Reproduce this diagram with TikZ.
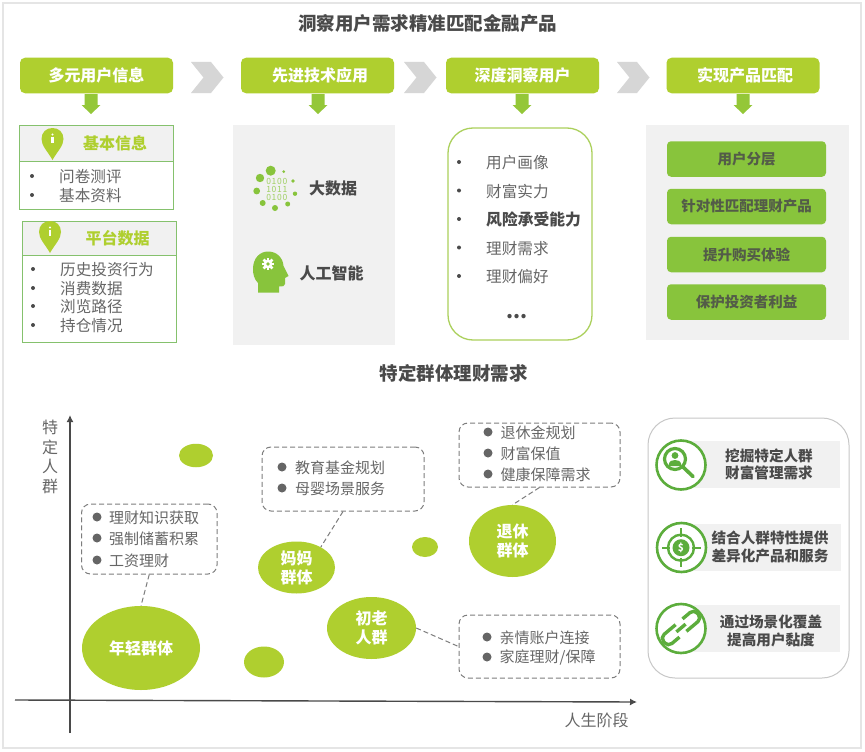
\documentclass[tikz,border=0pt]{standalone}
\usepackage{fontspec}
\setmainfont{Noto Sans CJK SC}
\usetikzlibrary{shapes.geometric,arrows.meta,calc}
\definecolor{lime}{HTML}{AFCF2F}
\definecolor{grn}{HTML}{88C43C}
\definecolor{deep}{HTML}{5CAD3C}
\definecolor{txt}{HTML}{666666}
\definecolor{dark}{HTML}{4A4A4A}
\definecolor{panel}{HTML}{F1F1F1}
\definecolor{chev}{HTML}{D6D6D6}
\newcommand{\px}[1]{\fontsize{#1}{#1}\selectfont}
\tikzset{
 x=1pt,y=-1pt,
 headbox/.style={fill=lime,rounded corners=5pt,minimum width=153pt,minimum height=35.5pt,inner sep=0,text=white,font=\px{16}\bfseries},
 btn/.style={fill=grn,rounded corners=4pt,minimum width=159pt,minimum height=35.5pt,inner sep=0,text=dark!85!grn,font=\px{14.5}\bfseries},
 dashbox/.style={draw=txt!85!white,line width=1pt,dash pattern=on 5pt off 3pt,rounded corners=9pt,inner sep=0},
 linkline/.style={draw=txt!85!white,line width=1pt,dash pattern=on 5pt off 3pt},
 blob/.style={ellipse,fill=lime,inner sep=0,text=white,font=\px{16}\bfseries,align=center},
 lst/.style={anchor=west,inner sep=0,text=txt,font=\px{15},yshift=-0.7pt},
 lsb/.style={anchor=west,inner sep=0,text=txt,font=\px{15.6},yshift=-0.7pt},
 bul/.style={circle,fill=dark!85!white,minimum size=9pt,inner sep=0},
 sbul/.style={circle,fill=dark,minimum size=4pt,inner sep=0},
 infoh/.style={draw=deep!75!white,line width=1pt,fill=panel,inner sep=0},
 infob/.style={draw=deep!75!white,line width=1pt,fill=white,inner sep=0},
 ringc/.style={circle,draw=deep,line width=2.6pt,fill=white,minimum size=49pt,inner sep=0},
 rtxt/.style={inner sep=0,text=dark,font=\px{14.6}\bfseries,align=center},
 ttl/.style={inner sep=0,text=dark,font=\px{18.5}\bfseries},
 ghd/.style={inner sep=0,text=lime,font=\px{16}\bfseries},
 biglab/.style={inner sep=0,text=dark,font=\px{16}\bfseries},
 axl/.style={inner sep=0,text=txt,font=\px{16}},
 axisline/.style={draw=dark,line width=1.4pt},
 bits/.style={inner sep=0,text=grn!80!white,font={\addfontfeatures{LetterSpace=8}\fontsize{8.5}{8.2}\selectfont},align=center},
}
\newcommand{\chevron}[2]{\fill[chev] (#1,#2) -- ++(20,0) -- ++(12.5,15.5) -- ++(-12.5,15.5) -- ++(-20,0) -- ++(12.5,-15.5) -- cycle;}
\newcommand{\downarr}[2]{\fill[grn!70!lime] (#1-6.5,#2) -- (#1+6.5,#2) -- (#1+6.5,#2+11) -- (#1+9.5,#2+11) -- (#1,#2+20) -- (#1-9.5,#2+11) -- (#1-6.5,#2+11) -- cycle;}
\newcommand{\mappin}[2]{\fill[lime] (#1,#2+32) .. controls (#1-5,#2+23) and (#1-11,#2+18) .. (#1-11,#2+11) .. controls (#1-11,#2+4) and (#1-6,#2) .. (#1,#2) .. controls (#1+6,#2) and (#1+11,#2+4) .. (#1+11,#2+11) .. controls (#1+11,#2+18) and (#1+5,#2+23) .. (#1,#2+32) -- cycle;
 \fill[white] (#1,#2+6.5) circle (1.2);\fill[white] (#1-1.1,#2+9) rectangle (#1+1.1,#2+15);}
\begin{document}
\begin{tikzpicture}
\useasboundingbox (0,0) rectangle (865,752);
\fill[white] (0,0) rectangle (865,752);
% frame
\draw[draw=black!10,line width=1.5pt] (3,3) rectangle (861,748);
% titles
\node[ttl] (t1) at (427.5,23) {洞察用户需求精准匹配金融产品};
\node[ttl] (t2) at (453.5,373) {特定群体理财需求};
% chevrons
\chevron{191}{62}\chevron{404}{62}\chevron{617}{62}
% heads
\node[headbox] (h1) at (96.5,75.5) {多元用户信息};
\node[headbox] (h2) at (317.5,75.5) {\hspace{5pt}先进技术应用};
\node[headbox] (h3) at (522.5,75.5) {深度洞察用户};
\node[headbox] (h4) at (743,75.5) {\hspace{4pt}实现产品匹配};
\downarr{91}{94}\downarr{318}{94}\downarr{522}{94}\downarr{743}{94}
% info A
\node[infoh,minimum width=154pt,minimum height=36pt] (ia) at (96.5,143) {};
\node[infob,minimum width=154pt,minimum height=48pt] (iab) at (96.5,185) {};
\mappin{52.5}{128}
\node[ghd] (iat) at (115,143) {基本信息};
\node[sbul] (a1) at (32,176) {}; \node[lsb] (a1t) at (59,176) {问卷测评};
\node[sbul] (a2) at (32,195) {}; \node[lsb] (a2t) at (59,195) {基本资料};
% info B
\node[infoh,minimum width=154pt,minimum height=34pt] (ib) at (99,238) {};
\node[infob,minimum width=154pt,minimum height=87pt] (ibb) at (99,298.5) {};
\mappin{50}{221}
\node[ghd] (ibt) at (117.5,238) {平台数据};
\node[sbul] (b1) at (33,269) {}; \node[lsb] (b1t) at (60,269) {历史投资行为};
\node[sbul] (b2) at (33,288) {}; \node[lsb] (b2t) at (60,288) {消费数据};
\node[sbul] (b3) at (33,306) {}; \node[lsb] (b3t) at (60,306) {浏览路径};
\node[sbul] (b4) at (33,325) {}; \node[lsb] (b4t) at (60,325) {持仓情况};
% panel 2
\fill[panel] (233,125) rectangle (395,345);
\foreach \a/\b/\r in {270.7/170.7/5,283.7/171.7/1.5,260/178/4.2,293/181/1.9,256.7/191/3.4,295/193.7/2.2,262.7/203/3,275/208/3,287.7/204/2.5}{\fill[grn] (\a,\b) circle (\r);}
\node[bits] (bitsn) at (276.8,189.3) {0100\\1011\\0100};
\node[biglab] (bd) at (333,188) {大数据};
\fill[grn] (258,292.5) -- (258,283) .. controls (254,279) and (253,274) .. (253,269) .. controls (253,258) and (260,251.5) .. (268,251.5) .. controls (277,251.5) and (283,258) .. (283.5,266) -- (288.5,276) -- (285,278) -- (285,284) .. controls (285,286) and (283,286.5) .. (279,286.5) -- (279,292.5) -- cycle;
\fill[white] (268,264) circle (4.4);
\foreach \k in {0,45,...,315}{\fill[white,shift={(268,264)},rotate=\k] (-1.3,3) rectangle (1.3,6.2);}
\fill[grn] (268,264) circle (1.8);
\node[biglab] (ai) at (331.5,273) {人工智能};
% rounded list
\draw[draw=lime!70!deep!80!white,line width=1.3pt,fill=white,rounded corners=25pt] (448,128) rectangle (592,340);
\node[sbul] (m1) at (459,162) {}; \node[lsb] (m1t) at (486,162) {用户画像};
\node[sbul] (m2) at (459,190.5) {}; \node[lsb] (m2t) at (486,190.5) {财富实力};
\node[sbul] (m3) at (459,219) {}; \node[lsb,text=dark,font=\px{15.8}\bfseries] (m3t) at (486,219) {风险承受能力};
\node[sbul] (m4) at (459,247.5) {}; \node[lsb] (m4t) at (486,247.5) {理财需求};
\node[sbul] (m5) at (459,276) {}; \node[lsb] (m5t) at (486,276) {理财偏好};
\node[inner sep=0,text=dark,font=\px{20}\bfseries] (m6) at (517,316.5) {...};
% panel 4
\fill[panel] (646,125) rectangle (849,340);
\node[btn] (p1) at (746.5,159) {用户分层};
\node[btn] (p2) at (746.5,206.5) {针对性匹配理财产品};
\node[btn] (p3) at (746.5,254.5) {提升购买体验};
\node[btn] (p4) at (746.5,302) {保护投资者利益};
% axes
\coordinate (yb) at (70,733); \coordinate (yt) at (70,415);
\coordinate (xl) at (15,700); \coordinate (xr) at (637,702);
\draw[axisline,-{Latex[length=7pt,width=7pt]}] (yb) -- (yt);
\draw[axisline,-{Latex[length=7pt,width=7pt]}] (xl) -- (xr);
\node[axl] (ya1) at (50,427) {特};
\node[axl] (ya2) at (50,447) {定};
\node[axl] (ya3) at (50,466) {人};
\node[axl] (ya4) at (50,486) {群};
\node[axl] (xa) at (596.5,720) {人生阶段};
% blobs
\node[blob,minimum width=118pt,minimum height=84pt] (young) at (141,648) {年轻群体};
\node[blob,minimum width=34pt,minimum height=23.5pt] (s1) at (196,455.5) {};
\node[blob,minimum width=77pt,minimum height=52pt] (mom) at (296.5,567.5) {妈妈\\[3pt]群体};
\node[blob,minimum width=40pt,minimum height=31pt] (s2) at (264,662) {};
\node[blob,minimum width=89pt,minimum height=62pt] (old) at (371.5,628) {初老\\[3pt]人群};
\node[blob,minimum width=87pt,minimum height=72pt] (ret) at (512.5,541) {退休\\[3pt]群体};
\node[blob,minimum width=26pt,minimum height=20pt] (s3) at (425,547) {};
% dashed boxes
\node[dashbox,draw,minimum width=135.5pt,minimum height=70pt] (da) at (149.25,539) {};
\node[dashbox,draw,minimum width=162pt,minimum height=64pt] (db) at (343,479) {};
\node[dashbox,draw,minimum width=161pt,minimum height=64pt] (dc) at (539.5,455) {};
\node[dashbox,draw,minimum width=161pt,minimum height=63pt] (dd) at (539.5,646.5) {};
\draw[linkline] (da.south) -- (young.north);
\draw[linkline] (db.south) -- (mom.40);
\draw[linkline] (dc.south) -- (ret.north);
\draw[linkline] (old.east) -- (dd.west);
\node[bul] (ba1) at (97,517) {}; \node[lst] (ba1t) at (109,517) {理财知识获取};
\node[bul] (ba2) at (97,538) {}; \node[lst] (ba2t) at (109,538) {强制储蓄积累};
\node[bul] (ba3) at (97,560) {}; \node[lst] (ba3t) at (109,560) {工资理财};
\node[bul] (bb1) at (282,467) {}; \node[lst] (bb1t) at (295,467) {教育基金规划};
\node[bul] (bb2) at (282,488) {}; \node[lst] (bb2t) at (295,488) {母婴场景服务};
\node[bul] (bc1) at (488,432) {}; \node[lst] (bc1t) at (500.5,432) {退休金规划};
\node[bul] (bc2) at (488,453) {}; \node[lst] (bc2t) at (500.5,453) {财富保值};
\node[bul] (bc3) at (488,474) {}; \node[lst] (bc3t) at (500.5,474) {健康保障需求};
\node[bul] (bd1) at (487,637) {}; \node[lst] (bd1t) at (499.5,637) {亲情账户连接};
\node[bul] (bd2) at (487,657) {}; \node[lst] (bd2t) at (499.5,657) {家庭理财/保障};
% right panel
\draw[draw=black!22,line width=1pt,fill=white,rounded corners=27pt] (648,418) rectangle (849,678);
\fill[panel] (690,441) rectangle (840,488);
\fill[panel] (690,524) rectangle (841,571);
\fill[panel] (690,605) rectangle (840,652);
\node[ringc] (r1) at (681,465) {};
\node[ringc] (r2) at (681.5,547.5) {};
\node[ringc] (r3) at (681,628.5) {};
\node[rtxt] (r1a) at (769,456) {挖掘特定人群};
\node[rtxt] (r1b) at (769,473) {财富管理需求};
\node[rtxt] (r2a) at (770,538) {结合人群特性提供};
\node[rtxt] (r2b) at (770,556.5) {差异化产品和服务};
\node[rtxt] (r3a) at (771,622) {通过场景化覆盖};
\node[rtxt] (r3b) at (771,640) {提高用户黏度};
% magnifier
\draw[deep,line width=3.2pt] (675,459) circle (10.5);
\draw[deep,line width=3.6pt,line cap=round] (683,467) -- (693,476.5);
\fill[deep] (675,455.5) circle (3.4);
\fill[deep] (668.5,466) .. controls (669,460.5) and (672,460) .. (675,460) .. controls (678,460) and (681,460.5) .. (681.5,466) -- cycle;
% target
\draw[deep,line width=2.4pt] (681,547.7) circle (13);
\fill[deep] (681,547.7) circle (8.5);
\draw[deep,line width=2.4pt] (662,547.7) -- (670,547.7) (692,547.7) -- (701,547.7) (681,528) -- (681,537) (681,558) -- (681,567);
\node[inner sep=0,text=white,font=\px{10}\bfseries] (dollar) at (681,547.7) {\$};
% chain
\begin{scope}[shift={(681,628)},rotate=40]
\draw[deep,line width=3.4pt,rounded corners=5pt] (-2,-6) -- (-22,-6) -- (-22,6) -- (-7,6);
\draw[deep,line width=3.4pt,rounded corners=5pt] (2,6) -- (22,6) -- (22,-6) -- (7,-6);
\draw[deep,line width=3.4pt] (-6,0) -- (6,0);
\end{scope}
\end{tikzpicture}
\end{document}
